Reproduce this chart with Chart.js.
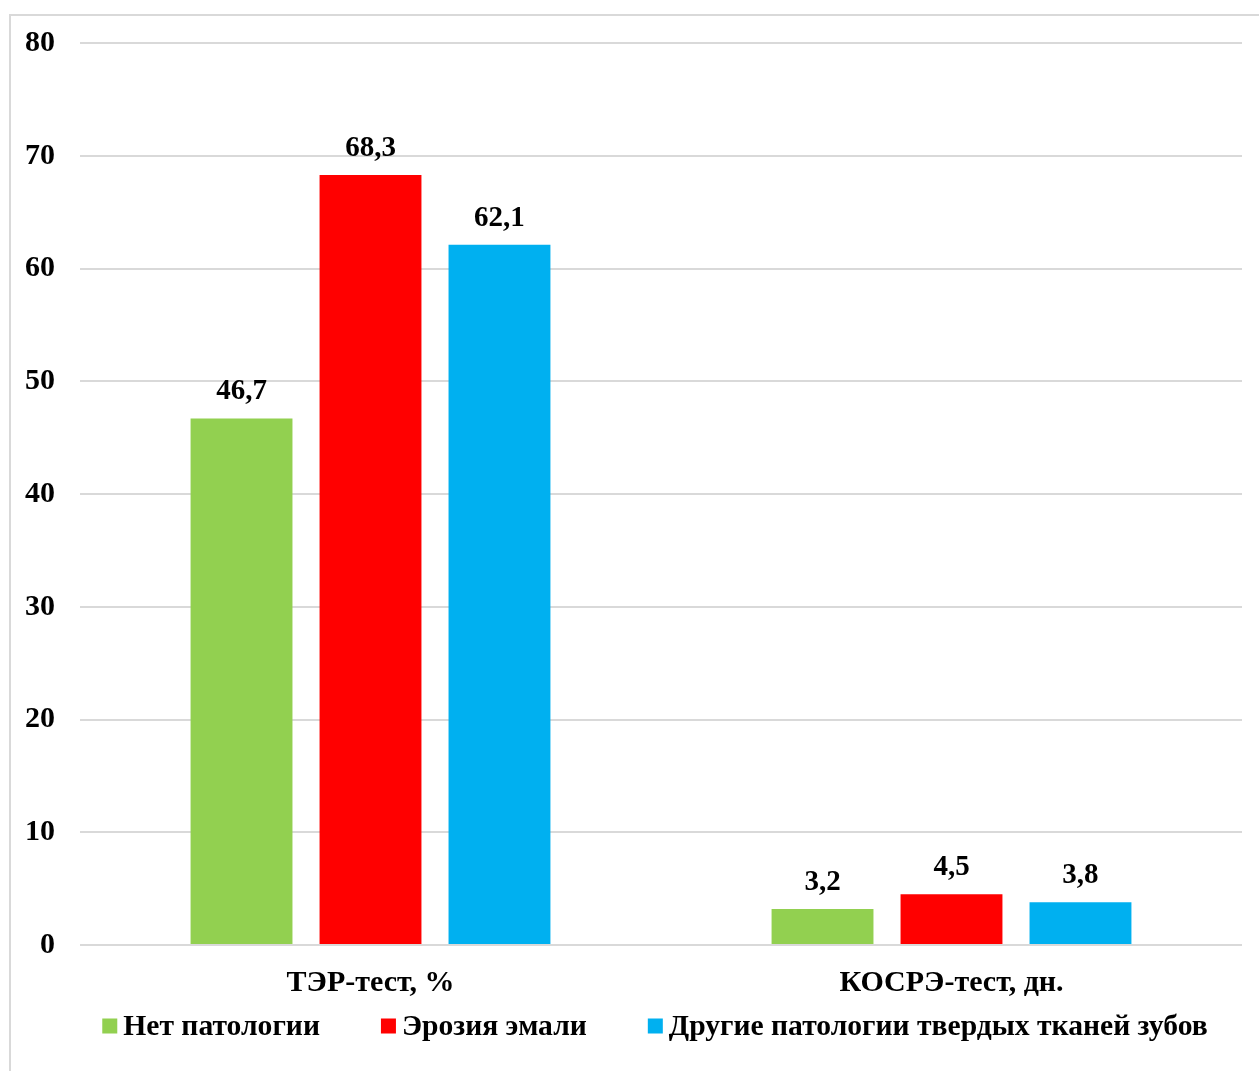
<!DOCTYPE html>
<html>
<head>
<meta charset="utf-8">
<script src="https://cdn.jsdelivr.net/npm/chart.js@4.4.1/dist/chart.umd.min.js"></script>
<style>
  html, body { margin: 0; padding: 0; background: #fff; }
  #frame {
    position: absolute; left: 9px; top: 14px; width: 1260px; height: 1070px;
    border-left: 2px solid #d9d9d9; border-top: 2px solid #d9d9d9; box-sizing: border-box;
  }
  #wrap { position: absolute; left: 0; top: 0; width: 1259px; height: 1071px; }
</style>
</head>
<body>
<div id="frame"></div>
<div id="wrap"><canvas id="chart"></canvas></div>
<script>
// Test groups shown on the x axis
const categories = ['ТЭР-тест, %', 'КОСРЭ-тест, дн.'];
// One series per patient group
const seriesNames = ['Нет патологии', 'Эрозия эмали', 'Другие патологии твердых тканей зубов'];
const noPathology = [46.7, 3.2];
const enamelErosion = [68.3, 4.5];
const otherPathology = [62.1, 3.8];
// Y axis ticks
const yTicks = [0, 10, 20, 30, 40, 50, 60, 70, 80];

const colors = ['#92D050', '#FF0000', '#00B0F0'];
const FONT = "'Liberation Serif', 'Times New Roman', serif";
const LEGEND_FONT = 'bold 29.6px ' + FONT;

// Writes each bar's value above it, with a decimal comma
const valueLabels = {
  id: 'valueLabels',
  afterDatasetsDraw(chart) {
    const ctx = chart.ctx;
    ctx.save();
    ctx.font = 'bold 29px ' + FONT;
    ctx.fillStyle = '#000';
    ctx.textAlign = 'center';
    ctx.textBaseline = 'alphabetic';
    chart.data.datasets.forEach((ds, i) => {
      const meta = chart.getDatasetMeta(i);
      meta.data.forEach((bar, j) => {
        const txt = ds.data[j].toFixed(1).replace('.', ',');
        ctx.fillText(txt, bar.x, bar.y - 19);
      });
    });
    ctx.restore();
  }
};

// Legend row under the axis: small square swatch, tight gap, wide spacing between entries
const legendRow = {
  id: 'legendRow',
  afterDraw(chart) {
    const ctx = chart.ctx;
    const box = 15, gap = 6, spacing = 61, centerX = 655, centerY = 1026;
    ctx.save();
    ctx.font = LEGEND_FONT;
    const items = chart.data.datasets.map(ds => ({
      text: ds.label, color: ds.backgroundColor, w: ctx.measureText(ds.label).width
    }));
    const total = items.reduce((s, it) => s + box + gap + it.w, 0) + spacing * (items.length - 1);
    let x = centerX - total / 2;
    ctx.textAlign = 'left';
    ctx.textBaseline = 'middle';
    items.forEach(it => {
      ctx.fillStyle = it.color;
      ctx.fillRect(x, centerY - box / 2, box, box);
      x += box + gap;
      ctx.fillStyle = '#000';
      ctx.fillText(it.text, x, centerY + 1);
      x += it.w + spacing;
    });
    ctx.restore();
  }
};

new Chart(document.getElementById('chart'), {
  type: 'bar',
  data: {
    labels: categories,
    datasets: [
      { label: seriesNames[0], data: noPathology, backgroundColor: colors[0] },
      { label: seriesNames[1], data: enamelErosion, backgroundColor: colors[1] },
      { label: seriesNames[2], data: otherPathology, backgroundColor: colors[2] }
    ]
  },
  options: {
    responsive: true,
    maintainAspectRatio: false,
    animation: false,
    layout: { padding: { top: 43, right: 17, left: 0, bottom: 66 } },
    datasets: { bar: { categoryPercentage: 0.666, barPercentage: 0.79 } },
    plugins: {
      tooltip: { enabled: false },
      legend: { display: false }
    },
    scales: {
      x: {
        afterFit(scale) { scale.height = 60; },
        grid: { display: false, drawTicks: false },
        border: { display: false },
        ticks: { font: { family: FONT, size: 30, weight: 'bold' }, color: '#000', padding: 20 }
      },
      y: {
        min: 0, max: 80,
        afterFit(scale) { scale.width = 80; },
        afterBuildTicks(scale) { scale.ticks = yTicks.map(v => ({ value: v })); },
        grid: { color: '#d9d9d9', lineWidth: 2, drawTicks: false },
        border: { display: false },
        ticks: { font: { family: FONT, size: 30, weight: 'bold' }, color: '#000', padding: 25 }
      }
    }
  },
  plugins: [valueLabels, legendRow]
});
</script>
</body>
</html>
